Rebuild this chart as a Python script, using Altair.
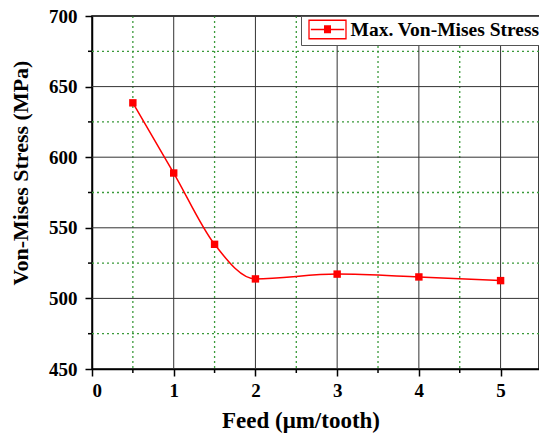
import altair as alt
import pandas as pd

# data
feed = [0.5, 1.0, 1.5, 2.0, 3.0, 4.0, 5.0]
stress = [638.5, 588.8, 538.3, 513.8, 517.2, 515.2, 512.6]
series_name = "Max. Von-Mises Stress"

x_ticks = [0, 1, 2, 3, 4, 5]
x_minor = [0.5, 1.5, 2.5, 3.5, 4.5]
y_ticks = [450, 500, 550, 600, 650, 700]
y_grid_major = [500, 550, 600, 650, 700]
y_grid_minor = [475, 525, 575, 625, 675]
x_grid_major = [1, 2, 3, 4, 5]

df = pd.DataFrame({"feed": feed, "stress": stress, "series": [series_name] * len(feed)})

FONT = "Liberation Serif"
W, H = 447, 353

xscale = alt.Scale(domain=[0, 5.47], nice=False, zero=False)
yscale = alt.Scale(domain=[450, 700], nice=False, zero=False)

xaxis = alt.Axis(values=x_ticks, title="Feed (μm/tooth)", format="d",
                 titleX=208.5, titleY=58, titleBaseline="alphabetic",
                 titleAlign="center", titleFontSize=23)
yaxis = alt.Axis(values=y_ticks, title="Von-Mises Stress (MPa)",
                 titleX=-72, titleY=156.5, titleAngle=270,
                 titleAlign="center", titleBaseline="middle", titleFontSize=22)

GREEN = "#3a9a3a"
GRID = "#333333"

vmaj = alt.Chart(pd.DataFrame({"v": x_grid_major})).mark_rule(
    color=GRID, strokeWidth=1).encode(x=alt.X("v:Q", scale=xscale, axis=xaxis))
vmin = alt.Chart(pd.DataFrame({"v": x_minor})).mark_rule(
    color=GREEN, strokeWidth=1.3, strokeDash=[2, 3]).encode(x=alt.X("v:Q", scale=xscale, axis=xaxis))
hmaj = alt.Chart(pd.DataFrame({"h": y_grid_major})).mark_rule(
    color=GRID, strokeWidth=1).encode(y=alt.Y("h:Q", scale=yscale, axis=yaxis))
hmin = alt.Chart(pd.DataFrame({"h": y_grid_minor})).mark_rule(
    color=GREEN, strokeWidth=1.3, strokeDash=[2, 3]).encode(y=alt.Y("h:Q", scale=yscale, axis=yaxis))

minor_xticks = alt.Chart(pd.DataFrame({"v": x_minor})).mark_rule(
    color="black", strokeWidth=1.5, clip=False).encode(
    x=alt.X("v:Q", scale=xscale, axis=xaxis), y=alt.value(H), y2=alt.value(H + 4))
minor_yticks = alt.Chart(pd.DataFrame({"h": y_grid_minor})).mark_rule(
    color="black", strokeWidth=1.5, clip=False).encode(
    y=alt.Y("h:Q", scale=yscale, axis=yaxis), x=alt.value(0), x2=alt.value(-4))

# legend symbol: outline box, line, filled square (drawn as stroked hatching)
parts = ["M-2,-1H2V1H-2Z", "M-1.8,0H1.8"]
k = -0.38
while k <= 0.39:
    parts.append(f"M-0.38,{k:.3f}H0.38")
    k += 0.12
symbol_path = "".join(parts)

line = alt.Chart(df).mark_line(interpolate="monotone", strokeWidth=1.5, clip=True).encode(
    x=alt.X("feed:Q", scale=xscale, axis=xaxis),
    y=alt.Y("stress:Q", scale=yscale, axis=yaxis),
    color=alt.Color("series:N", scale=alt.Scale(range=["#ff0000"]),
                    legend=alt.Legend(title=None, orient="none", legendX=209, legendY=0,
                                      symbolType=symbol_path, symbolSize=342,
                                      symbolStrokeWidth=1.3, symbolFillColor="transparent",
                                      symbolOffset=13,
                                      labelFont=FONT, labelFontSize=19.5, labelFontWeight="bold",
                                      labelColor="black", labelOffset=13, labelLimit=400,
                                      padding=3.5, strokeColor="#555555", fillColor="white")),
)

points = alt.Chart(df).mark_square(size=55, color="#ff0000", opacity=1, clip=True).encode(
    x=alt.X("feed:Q", scale=xscale, axis=xaxis),
    y=alt.Y("stress:Q", scale=yscale, axis=yaxis),
)

chart = alt.layer(vmin, hmin, vmaj, hmaj, minor_xticks, minor_yticks, line, points).properties(
    width=W, height=H,
    background="white",
    autosize=alt.AutoSizeParams(type="none"),
    padding={"left": 92, "top": 16, "right": 0, "bottom": 66},
).configure_view(stroke="black", strokeWidth=1.5).configure_axis(
    domainColor="black", domainWidth=1.5, tickColor="black", tickWidth=1.5, tickSize=7,
    labelFont=FONT, labelFontSize=19, labelFontWeight="bold", labelColor="black",
    labelPadding=5, titleFont=FONT, titleFontSize=21, titleFontWeight="bold",
    titleColor="black", grid=False,
).configure_axisY(labelPadding=8)

chart.save("out.html", embed_options={"renderer": "svg", "actions": False})
